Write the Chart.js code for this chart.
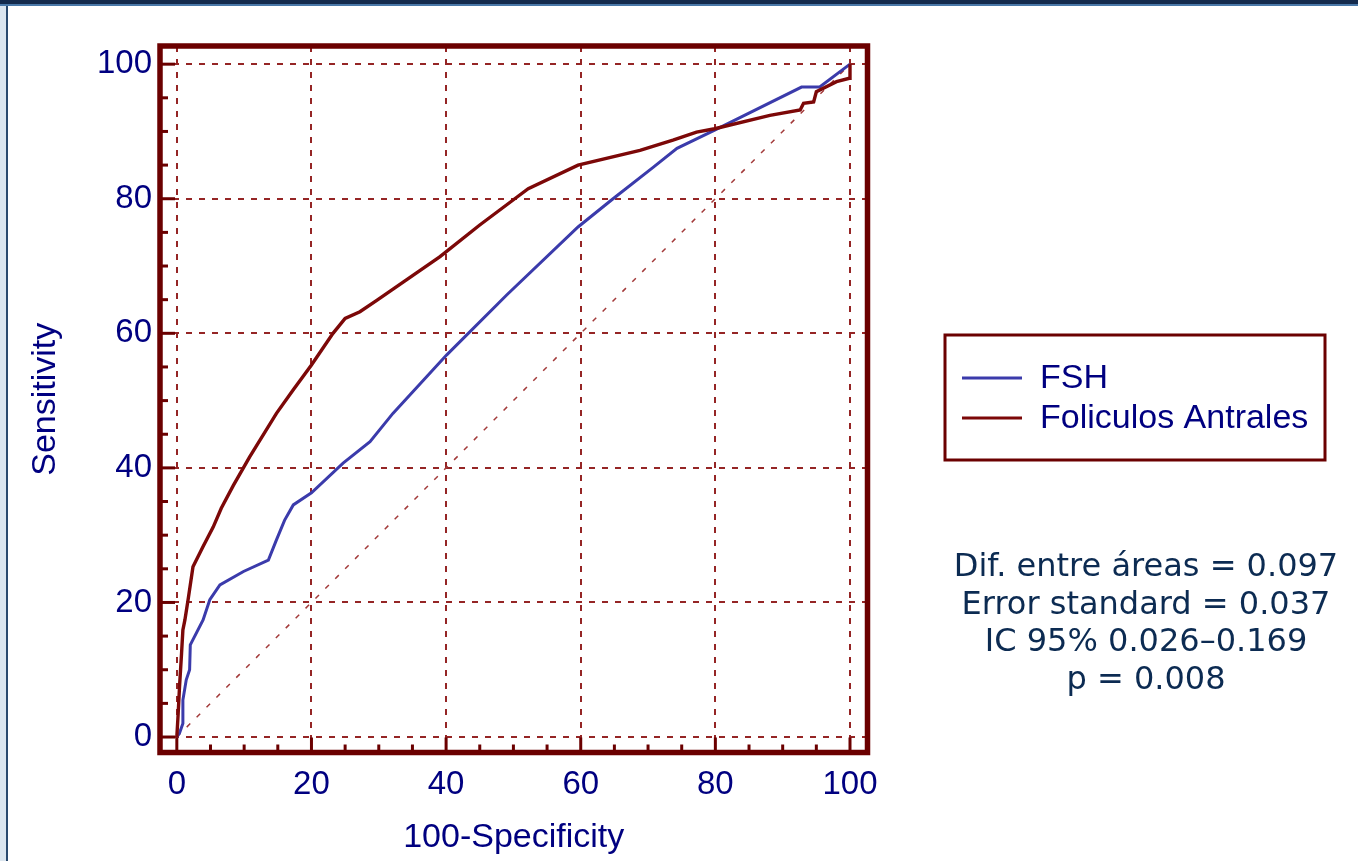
<!DOCTYPE html>
<html>
<head>
<meta charset="utf-8">
<script src="https://cdn.jsdelivr.net/npm/chart.js@4.4.0/dist/chart.umd.min.js"></script>
<style>
  html, body { margin: 0; padding: 0; background: #fff; }
  #wrap { position: relative; width: 1358px; height: 861px; overflow: hidden; }
  canvas { position: absolute; left: 0; top: 0; }
  #topbar { position: absolute; left: 0; top: 0; width: 1358px; height: 4px; background: #142a4c; }
  #topline { position: absolute; left: 0; top: 4px; width: 1358px; height: 2px; background: #4a78a8; }
  #leftstrip { position: absolute; left: 0; top: 6px; width: 6px; height: 855px; background: #dce6ef; }
  #leftline { position: absolute; left: 6px; top: 6px; width: 2px; height: 855px; background: #2b4a6e; }
</style>
</head>
<body>
<div id="wrap">
  <canvas id="roc" width="1358" height="861"></canvas>
  <div id="topbar"></div><div id="topline"></div>
  <div id="leftstrip"></div><div id="leftline"></div>
</div>
<script>
// ROC curves (100-Specificity vs Sensitivity)
const fshX = [0, 0.4, 0.9, 0.9, 1.4, 1.9, 2.0, 3.9, 4.9, 6.4, 9.9, 13.6, 14.8, 16.0, 17.3, 20.0, 24.7, 28.7, 32.1, 40.1, 49.0, 59.6, 64.8, 70.8, 74.3, 79.9, 92.8, 95.5, 100];
const fshY = [0, 0.6, 2.0, 5.5, 8.5, 10.0, 13.7, 17.4, 20.4, 22.6, 24.6, 26.3, 29.3, 32.2, 34.5, 36.3, 40.7, 43.9, 48.1, 56.8, 65.7, 75.8, 80.0, 84.7, 87.5, 90.2, 96.6, 96.6, 100];

const folX = [0, 0.2, 0.4, 0.7, 0.9, 1.2, 1.7, 2.4, 3.9, 5.4, 6.6, 8.4, 10.8, 14.8, 17.3, 20.0, 23.2, 25.0, 27.2, 29.7, 39.1, 45.0, 50.2, 52.2, 59.6, 68.8, 73.7, 77.2, 79.9, 88.1, 92.6, 93.1, 94.6, 95.0, 98.0, 99.9, 100, 100, 100];
const folY = [0, 3.5, 7.5, 12.4, 15.9, 17.4, 20.6, 25.3, 28.3, 31.2, 34.0, 37.4, 41.6, 48.1, 51.6, 55.3, 60.0, 62.2, 63.2, 64.9, 71.4, 76.1, 80.0, 81.5, 85.0, 87.2, 88.7, 89.9, 90.4, 92.4, 93.2, 94.2, 94.4, 95.9, 97.4, 97.9, 98.6, 99.6, 100];

const refX = [0, 100];
const refY = [0, 100];

const tickValues = [0, 5, 10, 15, 20, 25, 30, 35, 40, 45, 50, 55, 60, 65, 70, 75, 80, 85, 90, 95, 100];
const labelValues = [0, 20, 40, 60, 80, 100];

const seriesNames = ['FSH', 'Foliculos Antrales'];
const statLines = ['Dif. entre áreas = 0.097', 'Error standard = 0.037', 'IC 95% 0.026\u20130.169', 'p = 0.008'];

const toPoints = (xs, ys) => xs.map((x, i) => ({ x: x, y: ys[i] }));

const MAROON = '#6b0000';
const GRID = '#952525';
const NAVY = '#000080';
const BLUE = '#3b3bab';
const RED = '#7c0808';

const axisFrame = {
  id: 'axisFrame',
  afterDraw(chart) {
    const { ctx, chartArea: a, scales: { x, y } } = chart;
    ctx.save();
    // inward tick marks on left and bottom
    ctx.strokeStyle = MAROON;
    ctx.lineWidth = 3;
    tickValues.forEach(v => {
      const len = labelValues.includes(v) ? 15 : 8;
      const py = y.getPixelForValue(v);
      ctx.beginPath(); ctx.moveTo(a.left, py); ctx.lineTo(a.left + len, py); ctx.stroke();
      const px = x.getPixelForValue(v);
      ctx.beginPath(); ctx.moveTo(px, a.bottom); ctx.lineTo(px, a.bottom - len); ctx.stroke();
    });
    ctx.lineWidth = 5.5;
    ctx.strokeRect(a.left, a.top, a.right - a.left, a.bottom - a.top);

    // legend box
    ctx.lineWidth = 3;
    ctx.strokeRect(945, 335, 380, 125);
    const cols = [BLUE, RED];
    const rows = [378, 418];
    ctx.font = '34px "Liberation Sans", Arial, sans-serif';
    ctx.textBaseline = 'middle';
    ctx.textAlign = 'left';
    seriesNames.forEach((name, i) => {
      ctx.strokeStyle = cols[i];
      ctx.lineWidth = 3;
      ctx.beginPath(); ctx.moveTo(962, rows[i]); ctx.lineTo(1022, rows[i]); ctx.stroke();
      ctx.fillStyle = NAVY;
      ctx.fillText(name, 1040, rows[i] + 1);
    });

    // statistics text
    ctx.font = '32px "DejaVu Sans", Verdana, sans-serif';
    ctx.fillStyle = '#0c2b52';
    ctx.textAlign = 'center';
    ctx.textBaseline = 'alphabetic';
    statLines.forEach((t, i) => ctx.fillText(t, 1146, 576 + i * 37.5));
    ctx.restore();
  }
};

const gridOpts = {
  drawTicks: false,
  lineWidth: 2,
  color: c => (labelValues.includes(c.tick.value) ? GRID : 'rgba(0,0,0,0)')
};

new Chart(document.getElementById('roc'), {
  type: 'line',
  data: {
    datasets: [
      {
        label: 'ref',
        data: toPoints(refX, refY),
        borderColor: '#a33a3a',
        borderWidth: 1.5,
        borderDash: [5, 9],
        pointRadius: 0,
        order: 3
      },
      {
        label: seriesNames[0],
        data: toPoints(fshX, fshY),
        borderColor: BLUE,
        borderWidth: 3,
        pointRadius: 0,
        tension: 0,
        order: 2
      },
      {
        label: seriesNames[1],
        data: toPoints(folX, folY),
        borderColor: RED,
        borderWidth: 3.4,
        pointRadius: 0,
        tension: 0,
        order: 1
      }
    ]
  },
  options: {
    responsive: false,
    animation: false,
    layout: { padding: { left: 0, top: 46, right: 490.5, bottom: 0 } },
    plugins: { legend: { display: false }, tooltip: { enabled: false } },
    scales: {
      x: {
        type: 'linear',
        min: -2.5,
        max: 102.6,
        afterBuildTicks: s => { s.ticks = tickValues.map(v => ({ value: v })); },
        afterFit: s => { s.height = 108.5; },
        grid: gridOpts,
        border: { display: false, dash: [6, 7] },
        ticks: {
          autoSkip: false,
          maxRotation: 0,
          padding: 13,
          color: NAVY,
          font: { family: '"Liberation Sans", Arial, sans-serif', size: 33 },
          callback: v => (labelValues.includes(v) ? v : '')
        },
        title: {
          display: true,
          text: '100-Specificity',
          color: NAVY,
          font: { family: '"Liberation Sans", Arial, sans-serif', size: 34 },
          padding: { top: 0, bottom: 3 }
        }
      },
      y: {
        type: 'linear',
        min: -2.3,
        max: 102.7,
        afterBuildTicks: s => { s.ticks = tickValues.map(v => ({ value: v })); },
        afterFit: s => { s.width = 160; },
        grid: gridOpts,
        border: { display: false, dash: [6, 7] },
        ticks: {
          autoSkip: false,
          padding: 8,
          color: NAVY,
          font: { family: '"Liberation Sans", Arial, sans-serif', size: 33 },
          callback: v => (labelValues.includes(v) ? v : '')
        },
        title: {
          display: true,
          text: 'Sensitivity',
          color: NAVY,
          font: { family: '"Liberation Sans", Arial, sans-serif', size: 34 },
          padding: { top: 25, bottom: 0 }
        }
      }
    }
  },
  plugins: [axisFrame]
});
</script>
</body>
</html>
